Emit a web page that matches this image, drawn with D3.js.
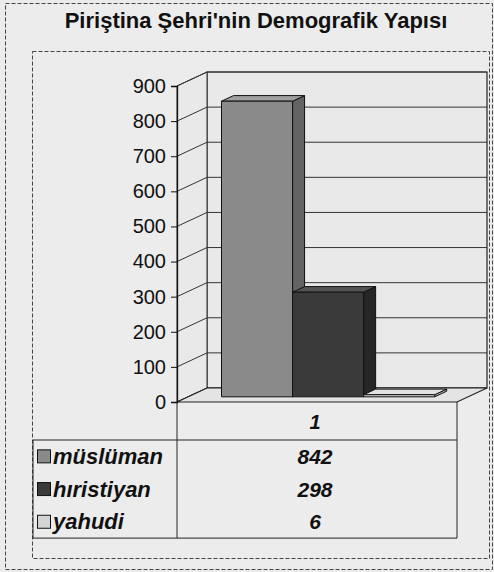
<!DOCTYPE html>
<html>
<head>
<meta charset="utf-8">
<script src="https://cdn.jsdelivr.net/npm/d3@7"></script>
<style>
  body { margin: 0; background: #ececec; }
  svg { display: block; font-family: "Liberation Sans", Arial, sans-serif; }
</style>
</head>
<body>
<svg id="chart" width="494" height="572"></svg>
<script>
const categories = ['1'];
const seriesNames = ['müslüman', 'hıristiyan', 'yahudi'];
const seriesValues = [842, 298, 6];
const yTicks = [0, 100, 200, 300, 400, 500, 600, 700, 800, 900];

// grey shades of the scanned columns: front, top, side
const shades = [
	['#8a8a8a', '#a0a0a0', '#646464'],
	['#3a3a3a', '#545454', '#262626'],
	['#d4d4d4', '#e2e2e2', '#b4b4b4']
];

const svg = d3.select('#chart');

// depth of the 3d box
const dX = 30, dY = -14;
const barFront = 0.37, barBack = 0.77;

const y = d3.scaleLinear().domain([0, 900]).range([402, 86]);
const xCat = d3.scaleBand().domain(categories).range([177, 457]);
const x = d3.scaleBand()
	.domain(seriesNames)
	.range([xCat('1'), xCat('1') + xCat.bandwidth()])
	.paddingOuter(0.47)
	.paddingInner(0);

const left = xCat.range()[0], right = xCat.range()[1];
const p = (px, py, d) => [px + d * dX, py + d * dY];
const poly = (pts) => pts.map((q) => q.join(',')).join(' ');

// outer frame and plot area frame
svg.append('rect').attr('x', 0).attr('y', 0).attr('width', 494).attr('height', 572).attr('fill', '#ececec');
svg.append('rect')
	.attr('x', 5.5).attr('y', 3.5).attr('width', 487).attr('height', 566)
	.attr('fill', 'none').attr('stroke', '#444').attr('stroke-dasharray', '4,2');
svg.append('rect')
	.attr('x', 32.5).attr('y', 51.5).attr('width', 457).attr('height', 507)
	.attr('fill', 'none').attr('stroke', '#444').attr('stroke-dasharray', '4,2');

// title
svg.append('text')
	.attr('x', 256).attr('y', 28)
	.attr('text-anchor', 'middle')
	.attr('font-size', 22).attr('font-weight', 'bold')
	.attr('fill', '#111')
	.text("Piriştina Şehri'nin Demografik Yapısı");

// walls
const yTop = y(900), base = y(0);
svg.append('polygon')
	.attr('points', poly([p(left, yTop, 1), p(right, yTop, 1), p(right, base, 1), p(left, base, 1)]))
	.attr('fill', '#e9e9e9').attr('stroke', '#222').attr('stroke-width', 1.2);
svg.append('polygon')
	.attr('points', poly([p(left, yTop, 0), p(left, yTop, 1), p(left, base, 1), p(left, base, 0)]))
	.attr('fill', '#e9e9e9').attr('stroke', '#333').attr('stroke-width', 1);

// gridlines on back and side wall
const grid = svg.append('g').attr('stroke', '#333').attr('stroke-width', 1);
yTicks.forEach((t) => {
	const a = p(left, y(t), 0), b = p(left, y(t), 1), c = p(right, y(t), 1);
	grid.append('polyline').attr('points', poly([a, b, c])).attr('fill', 'none');
});

// floor
svg.append('polygon')
	.attr('points', poly([p(left, base, 0), p(right, base, 0), p(right, base, 1), p(left, base, 1)]))
	.attr('fill', '#e4e4e4').attr('stroke', '#222').attr('stroke-width', 1.2);

// columns
const bars = svg.append('g').attr('stroke', '#111').attr('stroke-width', 1).attr('stroke-linejoin', 'round');
seriesNames.forEach((name, i) => {
	const x0 = x(name), x1 = x(name) + x.bandwidth();
	const yv = y(seriesValues[i]);
	const g = bars.append('g');
	g.append('polygon')
		.attr('points', poly([p(x1, yv, barFront), p(x1, base, barFront), p(x1, base, barBack), p(x1, yv, barBack)]))
		.attr('fill', shades[i][2]);
	g.append('polygon')
		.attr('points', poly([p(x0, yv, barFront), p(x1, yv, barFront), p(x1, yv, barBack), p(x0, yv, barBack)]))
		.attr('fill', shades[i][1]);
	g.append('polygon')
		.attr('points', poly([p(x0, yv, barFront), p(x1, yv, barFront), p(x1, base, barFront), p(x0, base, barFront)]))
		.attr('fill', shades[i][0]);
});

// value axis on the front left edge
const axis = svg.append('g')
	.attr('transform', 'translate(' + left + ',0)')
	.call(d3.axisLeft(y).tickValues(yTicks).tickSize(6).tickPadding(5));
axis.select('.domain').attr('stroke', '#111').attr('stroke-width', 1.3);
axis.selectAll('.tick line').attr('stroke', '#111');
axis.selectAll('.tick text').attr('font-size', 20).attr('fill', '#111').attr('font-family', '"Liberation Sans", Arial, sans-serif');

// data table
const table = svg.append('g').attr('stroke', '#222').attr('stroke-width', 1).attr('fill', 'none');
const rowTop = 440, rowH = 32.7;
const tableBottom = rowTop + rowH * seriesNames.length;
table.append('line').attr('x1', left).attr('x2', left).attr('y1', base).attr('y2', tableBottom);
table.append('line').attr('x1', right).attr('x2', right).attr('y1', base).attr('y2', tableBottom);
table.append('line').attr('x1', 33).attr('x2', right).attr('y1', rowTop).attr('y2', rowTop);
table.append('line').attr('x1', 33).attr('x2', right).attr('y1', tableBottom).attr('y2', tableBottom);
table.append('line').attr('x1', 33).attr('x2', 33).attr('y1', rowTop).attr('y2', tableBottom);

const midX = xCat('1') + xCat.bandwidth() / 2 - 2;
svg.append('text')
	.attr('x', midX).attr('y', 429)
	.attr('text-anchor', 'middle')
	.attr('font-size', 20).attr('font-weight', 'bold').attr('font-style', 'italic')
	.attr('fill', '#111')
	.text(categories[0]);

seriesNames.forEach((name, i) => {
	const cy = rowTop + rowH * i + rowH / 2;
	svg.append('rect')
		.attr('x', 37.5).attr('y', cy - 6.5).attr('width', 13).attr('height', 13)
		.attr('fill', shades[i][0]).attr('stroke', '#111');
	svg.append('text')
		.attr('x', 53).attr('y', cy + 7.5)
		.attr('font-size', 22).attr('font-weight', 'bold').attr('font-style', 'italic')
		.attr('fill', '#111')
		.text(name);
	svg.append('text')
		.attr('x', midX).attr('y', cy + 7.5)
		.attr('text-anchor', 'middle')
		.attr('font-size', 21).attr('font-weight', 'bold').attr('font-style', 'italic')
		.attr('fill', '#111')
		.text(seriesValues[i]);
});
</script>
</body>
</html>
